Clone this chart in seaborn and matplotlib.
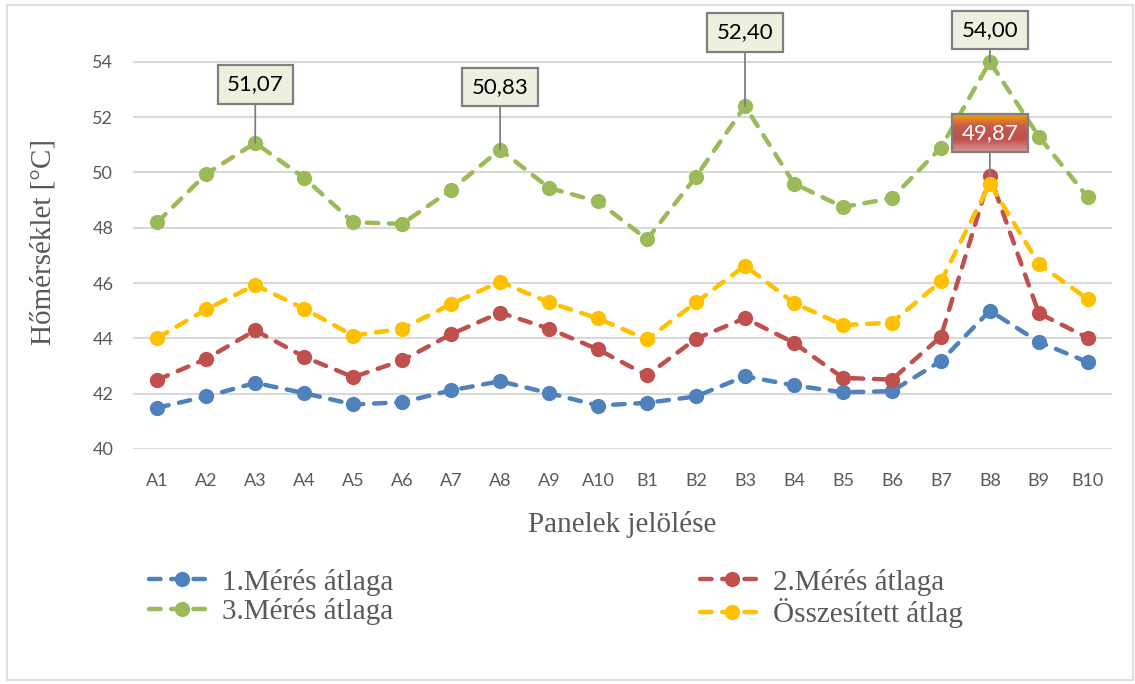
import numpy as np
import pandas as pd
import matplotlib
matplotlib.use("Agg")
import matplotlib.pyplot as plt
import seaborn as sns
from matplotlib.patches import Rectangle

# Data
panels = ["A1", "A2", "A3", "A4", "A5", "A6", "A7", "A8", "A9", "A10",
          "B1", "B2", "B3", "B4", "B5", "B6", "B7", "B8", "B9", "B10"]
meres1 = [41.49, 41.90, 42.39, 42.02, 41.61, 41.69, 42.12, 42.45, 42.02, 41.57,
          41.67, 41.90, 42.63, 42.30, 42.05, 42.09, 43.18, 45.00, 43.87, 43.14]
meres2 = [42.50, 43.26, 44.29, 43.33, 42.60, 43.20, 44.15, 44.93, 44.35, 43.60,
          42.66, 43.99, 44.73, 43.84, 42.57, 42.51, 44.06, 49.87, 44.91, 44.02]
meres3 = [48.20, 49.95, 51.07, 49.80, 48.20, 48.14, 49.37, 50.83, 49.44, 48.95,
          47.58, 49.85, 52.40, 49.60, 48.75, 49.07, 50.90, 54.00, 51.30, 49.10]
osszes = [44.02, 45.05, 45.93, 45.07, 44.10, 44.35, 45.24, 46.05, 45.30, 44.72,
          43.96, 45.30, 46.63, 45.28, 44.48, 44.57, 46.06, 49.60, 46.69, 45.42]

series_names = ["1.Mérés átlaga", "2.Mérés átlaga", "3.Mérés átlaga", "Összesített átlag"]
series_values = [meres1, meres2, meres3, osszes]
colors = ["#4F81BD", "#C0504D", "#9BBB59", "#FFC000"]

# labelled points: (series index, panel)
labelled = [(2, "A3"), (2, "A8"), (2, "B3"), (2, "B8"), (1, "B8")]
label_offsets = [42, 45, 53, 23, 31]  # vertical offset of the box, points

sns.set_theme(style="white")
plt.rcParams["font.family"] = ["Lato", "DejaVu Sans"]

fig = plt.figure(figsize=(11.35, 6.84), dpi=100)
ax = fig.add_axes([0.117, 0.3436, 0.863, 0.6064])

for name, vals, col in zip(series_names, series_values, colors):
    df = pd.DataFrame({"panel": panels, "temp": vals})
    sns.lineplot(data=df, x="panel", y="temp", ax=ax, sort=False, color=col,
                 linewidth=3.2, linestyle=(0, (2.6, 2.4)), dash_capstyle="round",
                 marker="o", markersize=11, markeredgewidth=0, label=name)

ax.set_xlim(-0.5, len(panels) - 0.5)
ax.set_ylim(40, 55)
ax.set_yticks(np.arange(40, 55, 2))
ax.yaxis.grid(True, color="#D9D9D9", linewidth=1.5)
ax.xaxis.grid(False)
for s in ax.spines.values():
    s.set_visible(False)
ax.tick_params(axis="both", labelsize=13, colors="#595959", length=0)
ax.tick_params(axis="x", pad=17)
ax.tick_params(axis="y", pad=14)

ax.set_xlabel("Panelek jelölése", family="Liberation Serif", fontsize=21,
              color="#595959", labelpad=16)
ax.set_ylabel("Hőmérséklet [°C]", family="Liberation Serif", fontsize=21,
              color="#595959", labelpad=26)

# data labels
red_ann = None
for (si, pan), off in zip(labelled, label_offsets):
    xi = panels.index(pan)
    v = series_values[si][xi]
    txt = f"{v:.2f}".replace(".", ",")
    if si == 1:
        bbox = dict(boxstyle="square,pad=0.42", fc="none", ec="#7F7F7F", lw=1.6)
        tc = "white"
    else:
        bbox = dict(boxstyle="square,pad=0.42", fc="#EBF1DE", ec="#7F7F7F", lw=1.6)
        tc = "black"
    ann = ax.annotate(txt, xy=(xi, v), xytext=(0, off), textcoords="offset points",
                      ha="center", va="center", fontsize=16, color=tc, bbox=bbox,
                      arrowprops=dict(arrowstyle="-", color="#7F7F7F", lw=1.3,
                                      shrinkA=0, shrinkB=0), zorder=10)
    if si == 1:
        red_ann = ann

# gradient fill behind the red data label
fig.canvas.draw()
ext = red_ann.get_bbox_patch().get_window_extent()
inv = ax.transData.inverted()
(x0, y0), (x1, y1) = inv.transform([[ext.x0, ext.y0], [ext.x1, ext.y1]])
grad_cols = np.array([[0.85, 0.59, 0.58], [0.75, 0.31, 0.30], [0.77, 0.36, 0.30],
                      [0.97, 0.64, 0.0]])
t = np.linspace(0, 1, 64)
stops = np.linspace(0, 1, len(grad_cols))
img = np.stack([np.interp(t, stops, grad_cols[:, c]) for c in range(3)], axis=1)
ax.imshow(img[:, None, :], extent=(x0, x1, y0, y1), origin="lower",
          aspect="auto", zorder=9.5, interpolation="bilinear")
ax.set_xlim(-0.5, len(panels) - 0.5)
ax.set_ylim(40, 55)

# legend, filled row-wise
h, l = ax.get_legend_handles_labels()
ax.get_legend().remove()
order = [0, 2, 1, 3]
leg = fig.legend([h[i] for i in order], [l[i] for i in order], ncol=2,
                 loc="center", bbox_to_anchor=(0.49, 0.125), frameon=False,
                 prop={"family": "Liberation Serif", "size": 21},
                 handlelength=2.2, columnspacing=10.5, labelspacing=0.1,
                 handletextpad=0.3)
for tx in leg.get_texts():
    tx.set_color("#595959")

# chart border
fig.patches.append(Rectangle((0.006, 0.006), 0.992, 0.986, transform=fig.transFigure,
                             fill=False, ec="#D9D9D9", lw=1.2))

fig.savefig("out.png", dpi=100)
